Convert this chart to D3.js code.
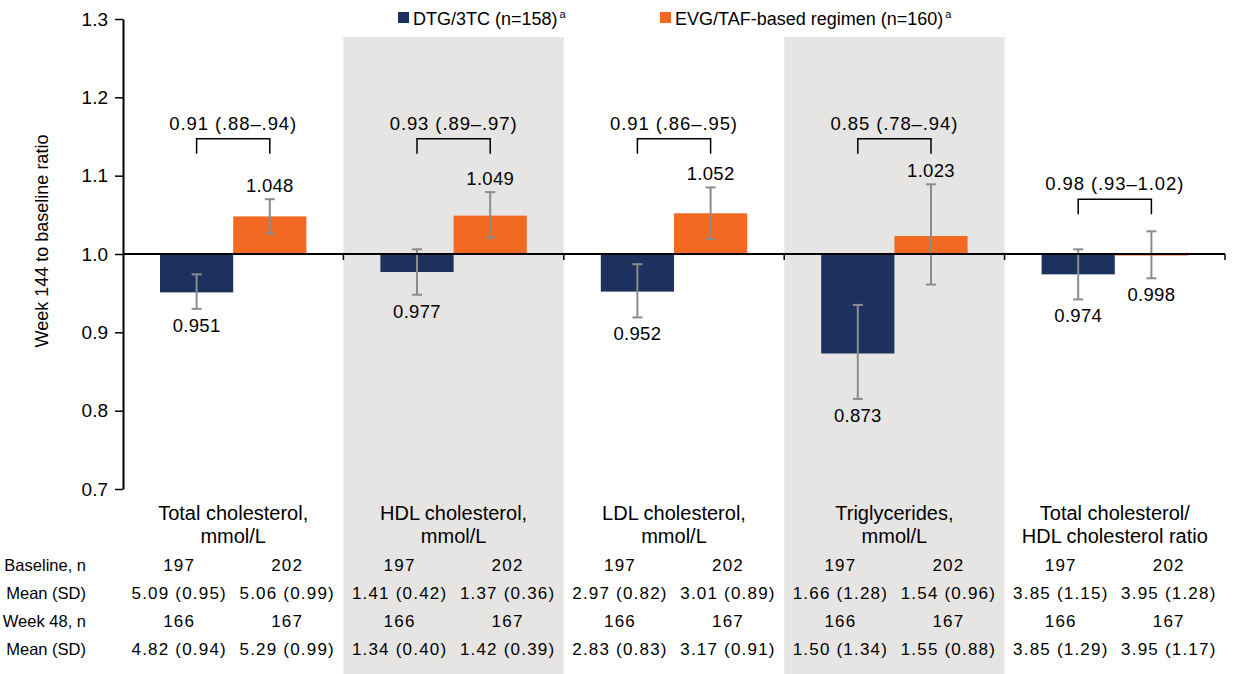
<!DOCTYPE html>
<html>
<head>
<meta charset="utf-8">
<script src="https://cdn.jsdelivr.net/npm/d3@7"></script>
<style>
  body { margin: 0; background: #fff; }
  svg { display: block; font-family: Arial, 'Liberation Sans', sans-serif; }
</style>
</head>
<body>
<svg id="chart"></svg>
<script>
// values
const categories = [
  ['Total cholesterol,', 'mmol/L'],
  ['HDL cholesterol,', 'mmol/L'],
  ['LDL cholesterol,', 'mmol/L'],
  ['Triglycerides,', 'mmol/L'],
  ['Total cholesterol/', 'HDL cholesterol ratio']
]
const groups = ['DTG/3TC (n=158)', 'EVG/TAF-based regimen (n=160)']

const dtgMean = [0.951, 0.977, 0.952, 0.873, 0.974]
const dtgLow = [0.930, 0.948, 0.919, 0.815, 0.942]
const dtgHigh = [0.974, 1.006, 0.987, 0.935, 1.006]

const evgMean = [1.048, 1.049, 1.052, 1.023, 0.998]
const evgLow = [1.026, 1.021, 1.019, 0.961, 0.969]
const evgHigh = [1.070, 1.079, 1.085, 1.089, 1.029]

const ratioLabels = ['0.91 (.88–.94)', '0.93 (.89–.97)', '0.91 (.86–.95)', '0.85 (.78–.94)', '0.98 (.93–1.02)']

const yTicks = [0.7, 0.8, 0.9, 1.0, 1.1, 1.2, 1.3]

const rowLabels = ['Baseline, n', 'Mean (SD)', 'Week 48, n', 'Mean (SD)']
const dtgRows = [
  ['197', '197', '197', '197', '197'],
  ['5.09 (0.95)', '1.41 (0.42)', '2.97 (0.82)', '1.66 (1.28)', '3.85 (1.15)'],
  ['166', '166', '166', '166', '166'],
  ['4.82 (0.94)', '1.34 (0.40)', '2.83 (0.83)', '1.50 (1.34)', '3.85 (1.29)']
]
const evgRows = [
  ['202', '202', '202', '202', '202'],
  ['5.06 (0.99)', '1.37 (0.36)', '3.01 (0.89)', '1.54 (0.96)', '3.95 (1.28)'],
  ['167', '167', '167', '167', '167'],
  ['5.29 (0.99)', '1.42 (0.39)', '3.17 (0.91)', '1.55 (0.88)', '3.95 (1.17)']
]

const width = 1233, height = 674
const NAVY = '#1c315e', ORANGE = '#f26a22', SHADE = '#e6e5e3', ERR = '#8c8c8c'

const data = categories.map((c, i) => ({
  idx: i,
  label: c,
  ratio: ratioLabels[i],
  bars: [
    { g: groups[0], mean: dtgMean[i], lo: dtgLow[i], hi: dtgHigh[i], color: NAVY },
    { g: groups[1], mean: evgMean[i], lo: evgLow[i], hi: evgHigh[i], color: ORANGE }
  ]
}))

const $svg = d3.select('#chart').attr('width', width).attr('height', height)

const x = d3.scaleBand().domain(d3.range(categories.length)).range([123, 1225])
const bw = x.bandwidth()
const xSub = d3.scaleBand().domain(groups).range([37, bw - 37])
const y = d3.scaleLinear().domain([0.7, 1.3]).range([489, 19])

// shaded bands behind alternate categories
$svg.selectAll('.shade')
  .data(data.filter(d => d.idx % 2 === 1))
  .enter().append('rect')
  .attr('class', 'shade')
  .attr('x', d => x(d.idx))
  .attr('y', 37)
  .attr('width', bw)
  .attr('height', height - 37)
  .attr('fill', SHADE)

// y axis
const yAxis = d3.axisLeft(y)
  .tickValues(yTicks)
  .tickFormat(d3.format('.1f'))
  .tickSize(8)
  .tickSizeOuter(0)
const $yAxis = $svg.append('g')
  .attr('transform', 'translate(123,0)')
  .call(yAxis)
$yAxis.select('.domain').attr('stroke', '#000').attr('stroke-width', 2)
$yAxis.selectAll('.tick line').attr('stroke', '#000').attr('stroke-width', 1.5)
$yAxis.selectAll('.tick text')
  .attr('x', -15)
  .attr('fill', '#000')
  .style('font-size', '19px')
  .style('font-family', 'Arial, "Liberation Sans", sans-serif')

$svg.append('text')
  .attr('transform', `translate(48,241) rotate(-90)`)
  .attr('text-anchor', 'middle')
  .style('font-size', '18px')
  .text('Week 144 to baseline ratio')

const $cat = $svg.selectAll('.cat')
  .data(data)
  .enter().append('g')
  .attr('class', 'cat')
  .attr('transform', d => `translate(${x(d.idx)},0)`)

// bars
$cat.selectAll('.bar')
  .data(d => d.bars)
  .enter().append('rect')
  .attr('class', 'bar')
  .attr('x', d => xSub(d.g))
  .attr('width', xSub.bandwidth())
  .attr('y', d => y(Math.max(1, d.mean)))
  .attr('height', d => Math.abs(y(d.mean) - y(1)))
  .attr('fill', d => d.color)

// baseline at 1.0 with little ticks at category edges
$svg.append('line')
  .attr('x1', 123).attr('x2', 1225)
  .attr('y1', y(1)).attr('y2', y(1))
  .attr('stroke', '#000').attr('stroke-width', 2)
$svg.selectAll('.edge')
  .data(d3.range(1, categories.length + 1))
  .enter().append('line')
  .attr('x1', i => x(0) + i * bw).attr('x2', i => x(0) + i * bw)
  .attr('y1', y(1)).attr('y2', y(1) + 6)
  .attr('stroke', '#000').attr('stroke-width', 1.5)

// error bars
const $err = $cat.selectAll('.err')
  .data(d => d.bars)
  .enter().append('g')
  .attr('class', 'err')
  .attr('transform', d => `translate(${xSub(d.g) + xSub.bandwidth() / 2},0)`)
  .attr('stroke', ERR)
  .attr('stroke-width', 2)
$err.append('line')
  .attr('y1', d => y(d.lo)).attr('y2', d => y(d.hi))
$err.append('line')
  .attr('x1', -5).attr('x2', 5)
  .attr('y1', d => y(d.lo)).attr('y2', d => y(d.lo))
$err.append('line')
  .attr('x1', -5).attr('x2', 5)
  .attr('y1', d => y(d.hi)).attr('y2', d => y(d.hi))

// value labels
$cat.selectAll('.val')
  .data(d => d.bars)
  .enter().append('text')
  .attr('class', 'val')
  .attr('x', d => xSub(d.g) + xSub.bandwidth() / 2)
  .attr('y', d => d.mean >= 1 ? y(d.hi) - 7 : y(d.lo) + 23)
  .attr('text-anchor', 'middle')
  .style('font-size', '18.5px')
  .style('letter-spacing', '0.3px')
  .text(d => d3.format('.3f')(d.mean))

// brackets with ratio labels
const bracketLevel = d => d.idx < 4 ? 1.147 : 1.070
const $br = $cat.append('g').attr('class', 'bracket')
$br.append('path')
  .attr('d', d => {
    const x0 = xSub(groups[0]) + xSub.bandwidth() / 2
    const x1 = xSub(groups[1]) + xSub.bandwidth() / 2
    const yt = y(bracketLevel(d))
    return `M${x0},${yt + 15}V${yt}H${x1}V${yt + 15}`
  })
  .attr('fill', 'none')
  .attr('stroke', '#000')
  .attr('stroke-width', 1.5)
$br.append('text')
  .attr('x', bw / 2)
  .attr('y', d => y(bracketLevel(d)) - 9)
  .attr('text-anchor', 'middle')
  .style('font-size', '18.5px')
  .style('letter-spacing', '0.9px')
  .text(d => d.ratio)

// category labels
$cat.append('text')
  .attr('text-anchor', 'middle')
  .style('font-size', '20px')
  .selectAll('tspan')
  .data(d => d.label)
  .enter().append('tspan')
  .attr('x', bw / 2)
  .attr('y', (d, i) => 520 + i * 23)
  .text(d => d)

// table under the chart
const rowY = [571, 599, 627, 655]
$svg.selectAll('.rowlab')
  .data(rowLabels)
  .enter().append('text')
  .attr('class', 'rowlab')
  .attr('x', 86)
  .attr('y', (d, i) => rowY[i])
  .attr('text-anchor', 'end')
  .style('font-size', '16.5px')
  .text(d => d)

rowLabels.forEach((r, ri) => {
  $cat.append('text')
    .attr('x', bw * 0.255)
    .attr('y', rowY[ri])
    .attr('text-anchor', 'middle')
    .style('font-size', '17px')
    .style('letter-spacing', '1.2px')
    .text(d => dtgRows[ri][d.idx])
  $cat.append('text')
    .attr('x', bw * 0.745)
    .attr('y', rowY[ri])
    .attr('text-anchor', 'middle')
    .style('font-size', '17px')
    .style('letter-spacing', '1.2px')
    .text(d => evgRows[ri][d.idx])
})

// legend
const legendX = [398, 660]
const $legend = $svg.selectAll('.legend')
  .data(groups)
  .enter().append('g')
  .attr('class', 'legend')
  .attr('transform', (d, i) => `translate(${legendX[i]},12)`)
$legend.append('rect')
  .attr('width', 11).attr('height', 11)
  .attr('fill', (d, i) => i === 0 ? NAVY : ORANGE)
const $lt = $legend.append('text')
  .attr('x', 15).attr('y', 13)
  .style('font-size', '18px')
$lt.append('tspan').text(d => d)
$lt.append('tspan')
  .attr('dx', 2).attr('dy', -7)
  .style('font-size', '11px')
  .text('a')
</script>
</body>
</html>
